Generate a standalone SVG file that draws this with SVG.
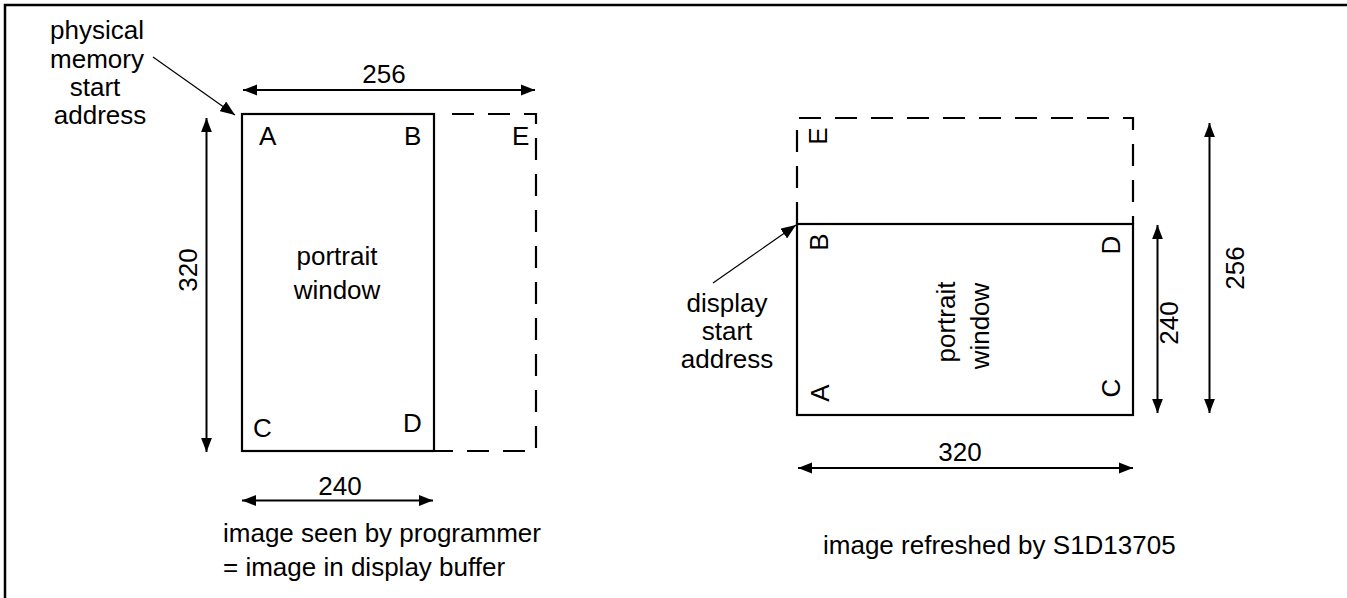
<svg xmlns="http://www.w3.org/2000/svg" width="1347" height="598" viewBox="0 0 1347 598">
<style>
  text { font-family: "Liberation Sans", Arial, Helvetica, sans-serif; font-size: 26px; fill: #000; }
  .mid { text-anchor: middle; }
  .box { fill: none; stroke: #000; stroke-width: 2.2; }
  .dash { fill: none; stroke: #000; stroke-width: 2.2; stroke-dasharray: 22 14; }
  .dim { stroke: #000; stroke-width: 2; fill: none; marker-start: url(#ah); marker-end: url(#ah); }
  .lead { stroke: #000; stroke-width: 1.2; fill: none; marker-end: url(#lh); }
</style>
<defs>
  <marker id="ah" markerUnits="userSpaceOnUse" markerWidth="14" markerHeight="12" refX="13" refY="5" orient="auto-start-reverse" viewBox="0 0 13 10">
    <path d="M0,0 L13,5 L0,10 z" fill="#000"/>
  </marker>
  <marker id="lh" markerUnits="userSpaceOnUse" markerWidth="15" markerHeight="12" refX="14" refY="5.5" orient="auto" viewBox="0 0 14 11">
    <path d="M0,0 L14,5.5 L0,11 z" fill="#000"/>
  </marker>
</defs>

<rect id="frame" x="5" y="5" width="1400" height="700" fill="none" stroke="#000" stroke-width="2.5"/>

<!-- Left diagram -->
<g id="left-buffer">
  <path class="dash" d="M452,114 H536 V451 H242"/>
  <rect class="box" x="242" y="114" width="192" height="337"/>
  <text x="259" y="145">A</text>
  <text x="404" y="145">B</text>
  <text x="512" y="145">E</text>
  <text x="253" y="437">C</text>
  <text x="403" y="432">D</text>
  <text class="mid" x="337" y="265">portrait</text>
  <text class="mid" x="337" y="299">window</text>
</g>
<g id="left-label">
  <text class="mid" x="97" y="39">physical</text>
  <text class="mid" x="97" y="68">memory</text>
  <text class="mid" x="95" y="96">start</text>
  <text class="mid" x="100" y="124">address</text>
</g>
<g id="left-dims">
  <text class="mid" x="384" y="83">256</text>
  <text class="mid" transform="translate(197,270) rotate(-90)">320</text>
  <text class="mid" x="340" y="495">240</text>
</g>
<g id="left-caption">
  <text x="223" y="542">image seen by programmer</text>
  <text x="223" y="576">= image in display buffer</text>
</g>

<!-- Right diagram -->
<g id="right-display">
  <path class="dash" d="M797,224 V118 H1133 V224"/>
  <rect class="box" x="797" y="224" width="336" height="191"/>
  <text class="mid" transform="translate(827,136) rotate(-90)">E</text>
  <text class="mid" transform="translate(828,242) rotate(-90)">B</text>
  <text class="mid" transform="translate(829,393) rotate(-90)">A</text>
  <text class="mid" transform="translate(1120,245) rotate(-90)">D</text>
  <text class="mid" transform="translate(1120,388) rotate(-90)">C</text>
  <text class="mid" transform="translate(955,322) rotate(-90)">portrait</text>
  <text class="mid" transform="translate(989,326) rotate(-90)">window</text>
</g>
<g id="right-label">
  <text class="mid" x="727" y="312">display</text>
  <text class="mid" x="727" y="340">start</text>
  <text class="mid" x="727" y="368">address</text>
</g>
<g id="right-dims">
  <text class="mid" transform="translate(1178,323) rotate(-90)">240</text>
  <text class="mid" transform="translate(1244,268) rotate(-90)">256</text>
  <text class="mid" x="960" y="461">320</text>
</g>
<g id="right-caption">
  <text x="823" y="554">image refreshed by S1D13705</text>
</g>

<g id="connectors">
  <line class="dim" x1="243" y1="90" x2="535" y2="90"/>
  <line class="dim" x1="206.5" y1="118" x2="206.5" y2="452"/>
  <line class="dim" x1="242" y1="500.5" x2="433" y2="500.5"/>
  <line class="lead" x1="153" y1="57" x2="235" y2="115"/>
  <line class="dim" x1="798" y1="468" x2="1133" y2="468"/>
  <line class="dim" x1="1157.5" y1="225" x2="1157.5" y2="413"/>
  <line class="dim" x1="1209.5" y1="123" x2="1209.5" y2="413"/>
  <line class="lead" x1="713" y1="283" x2="796" y2="225"/>
</g>
</svg>
